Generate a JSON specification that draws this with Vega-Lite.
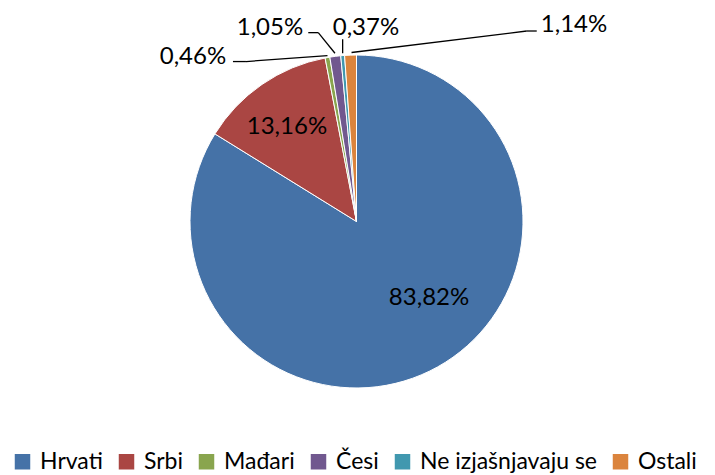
{
  "$schema": "https://vega.github.io/schema/vega-lite/v6.json",
  "autosize": "none",
  "width": 333,
  "height": 333,
  "padding": {"left": 190, "top": 55, "right": 192, "bottom": 87},
  "background": "white",
  "config": {"view": {"stroke": null}, "font": "Lato"},
  "data": {
    "values": [
      {"n": 1, "group": "Hrvati", "value": 83.82, "label": "83,82%"},
      {"n": 2, "group": "Srbi", "value": 13.16, "label": "13,16%"},
      {"n": 3, "group": "Mađari", "value": 0.46, "label": "0,46%"},
      {"n": 4, "group": "Česi", "value": 1.05, "label": "1,05%"},
      {"n": 5, "group": "Ne izjašnjavaju se", "value": 0.37, "label": "0,37%"},
      {"n": 6, "group": "Ostali", "value": 1.14, "label": "1,14%"}
    ]
  },
  "layer": [
    {
      "mark": {"type": "arc", "outerRadius": 166.5, "stroke": "white", "strokeWidth": 1},
      "encoding": {
        "theta": {"field": "value", "type": "quantitative", "stack": true, "scale": {"domain": [0, 100]}},
        "order": {"field": "n", "type": "quantitative"},
        "color": {
          "field": "group",
          "type": "nominal",
          "sort": ["Hrvati", "Srbi", "Mađari", "Česi", "Ne izjašnjavaju se", "Ostali"],
          "scale": {
            "domain": ["Hrvati", "Srbi", "Mađari", "Česi", "Ne izjašnjavaju se", "Ostali"],
            "range": ["#4572A7", "#AA4643", "#89A54E", "#71588F", "#4198AF", "#DB843D"]
          },
          "legend": {
            "title": null,
            "orient": "none",
            "legendX": -179,
            "legendY": 395,
            "direction": "horizontal",
            "columns": 6,
            "symbolType": "square",
            "symbolSize": 240,
            "symbolStrokeWidth": 0,
            "symbolOpacity": 1,
            "labelFont": "Lato",
            "labelFontSize": 23,
            "labelColor": "#000000",
            "labelOffset": 6,
            "labelLimit": 0,
            "columnPadding": 12,
            "padding": 0
          }
        }
      }
    },
    {
      "transform": [
        {"window": [{"op": "sum", "field": "value", "as": "cum"}], "sort": [{"field": "n"}], "frame": [null, 0]},
        {"joinaggregate": [{"op": "sum", "field": "value", "as": "total"}]},
        {"calculate": "(datum.cum - datum.value / 2) / datum.total * 2 * PI", "as": "mid"},
        {"calculate": "sin(datum.mid)", "as": "px"},
        {"calculate": "cos(datum.mid)", "as": "py"}
      ],
      "encoding": {
        "x": {"field": "px", "type": "quantitative", "scale": {"domain": [-1, 1], "nice": false, "zero": false}, "axis": null},
        "y": {"field": "py", "type": "quantitative", "scale": {"domain": [-1, 1], "nice": false, "zero": false}, "axis": null}
      },
      "layer": [
        {
          "transform": [{"filter": "datum.group === 'Mađari'"}],
          "mark": {"type": "rule", "color": "#000000", "strokeWidth": 1.3, "xOffset": 0, "yOffset": -2, "x2Offset": -81.5, "y2Offset": 4},
          "encoding": {"x2": {"field": "px"}, "y2": {"field": "py"}}
        },
        {
          "transform": [{"filter": "datum.group === 'Mađari'"}],
          "mark": {"type": "rule", "color": "#000000", "strokeWidth": 1.3, "xOffset": -81.5, "yOffset": 4, "x2Offset": -94.5, "y2Offset": 4},
          "encoding": {"x2": {"field": "px"}, "y2": {"field": "py"}}
        },
        {
          "transform": [{"filter": "datum.group === 'Česi'"}],
          "mark": {"type": "rule", "color": "#000000", "strokeWidth": 1.3, "xOffset": -0.3, "yOffset": -3.1, "x2Offset": -17, "y2Offset": -23.7},
          "encoding": {"x2": {"field": "px"}, "y2": {"field": "py"}}
        },
        {
          "transform": [{"filter": "datum.group === 'Česi'"}],
          "mark": {"type": "rule", "color": "#000000", "strokeWidth": 1.3, "xOffset": -17, "yOffset": -23.7, "x2Offset": -27, "y2Offset": -23.7},
          "encoding": {"x2": {"field": "px"}, "y2": {"field": "py"}}
        },
        {
          "transform": [{"filter": "datum.group === 'Ne izjašnjavaju se'"}],
          "mark": {"type": "rule", "color": "#000000", "strokeWidth": 1.3, "xOffset": 0, "yOffset": -2.3, "x2Offset": 0, "y2Offset": -16.3},
          "encoding": {"x2": {"field": "px"}, "y2": {"field": "py"}}
        },
        {
          "transform": [{"filter": "datum.group === 'Ostali'"}],
          "mark": {"type": "rule", "color": "#000000", "strokeWidth": 1.3, "xOffset": 1, "yOffset": -2.6, "x2Offset": 176.2, "y2Offset": -24.1},
          "encoding": {"x2": {"field": "px"}, "y2": {"field": "py"}}
        },
        {
          "transform": [{"filter": "datum.group === 'Ostali'"}],
          "mark": {"type": "rule", "color": "#000000", "strokeWidth": 1.3, "xOffset": 176.2, "yOffset": -24.1, "x2Offset": 186.2, "y2Offset": -24.1},
          "encoding": {"x2": {"field": "px"}, "y2": {"field": "py"}}
        },
        {
          "transform": [{"filter": "datum.group === 'Hrvati'"}],
          "mark": {"type": "text", "font": "Lato", "fontSize": 24, "color": "#000000", "align": "center", "baseline": "middle", "dx": -8.5, "dy": -68.9},
          "encoding": {"text": {"field": "label"}}
        },
        {
          "transform": [{"filter": "datum.group === 'Srbi'"}],
          "mark": {"type": "text", "font": "Lato", "fontSize": 24, "color": "#000000", "align": "center", "baseline": "middle", "dx": 24.9, "dy": 42.5},
          "encoding": {"text": {"field": "label"}}
        },
        {
          "transform": [{"filter": "datum.group === 'Mađari'"}],
          "mark": {"type": "text", "font": "Lato", "fontSize": 24, "color": "#000000", "align": "center", "baseline": "middle", "dx": -134.5, "dy": -1},
          "encoding": {"text": {"field": "label"}}
        },
        {
          "transform": [{"filter": "datum.group === 'Česi'"}],
          "mark": {"type": "text", "font": "Lato", "fontSize": 24, "color": "#000000", "align": "center", "baseline": "middle", "dx": -65.3, "dy": -28.3},
          "encoding": {"text": {"field": "label"}}
        },
        {
          "transform": [{"filter": "datum.group === 'Ne izjašnjavaju se'"}],
          "mark": {"type": "text", "font": "Lato", "fontSize": 24, "color": "#000000", "align": "center", "baseline": "middle", "dx": 23.3, "dy": -27.5},
          "encoding": {"text": {"field": "label"}}
        },
        {
          "transform": [{"filter": "datum.group === 'Ostali'"}],
          "mark": {"type": "text", "font": "Lato", "fontSize": 24, "color": "#000000", "align": "center", "baseline": "middle", "dx": 223.5, "dy": -30},
          "encoding": {"text": {"field": "label"}}
        }
      ]
    }
  ]
}
